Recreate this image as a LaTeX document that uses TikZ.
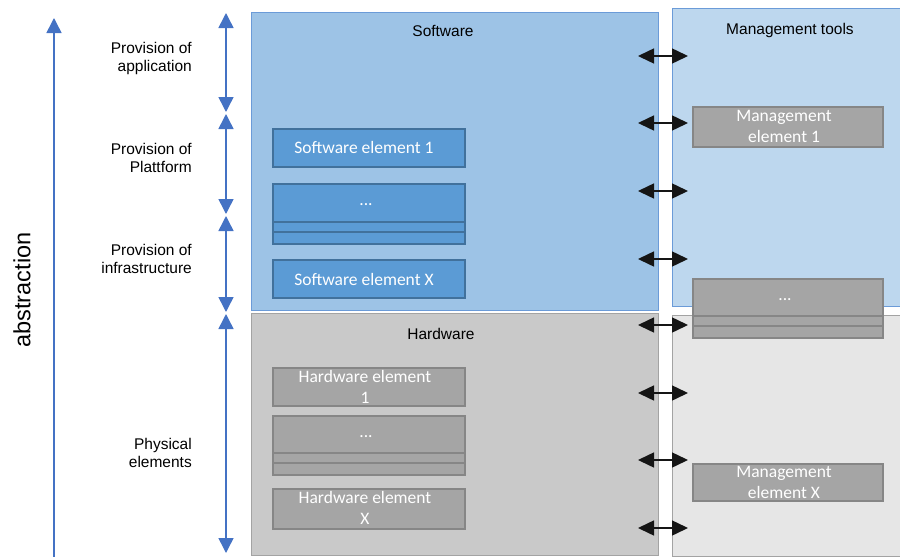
\documentclass[tikz,border=0pt]{standalone}
\usepackage{fontspec}
\setmainfont{Liberation Sans}
\newfontfamily\carlito{Carlito}
\usetikzlibrary{arrows.meta}
\definecolor{swfill}{HTML}{9DC3E6}
\definecolor{swdraw}{HTML}{6B9BD8}
\definecolor{mtfill}{HTML}{BDD7EE}
\definecolor{hwfill}{HTML}{C9C9C9}
\definecolor{hwdraw}{HTML}{A3A3A3}
\definecolor{mlfill}{HTML}{E6E6E6}
\definecolor{elblue}{HTML}{5B9BD5}
\definecolor{elbluedraw}{HTML}{41719C}
\definecolor{elgray}{HTML}{A5A5A5}
\definecolor{elgraydraw}{HTML}{868686}
\definecolor{arrblue}{HTML}{4472C4}
\definecolor{arrblack}{HTML}{151515}
\tikzset{
  bigbox/.style={draw, line width=1.3pt, anchor=north west, inner sep=0pt},
  title/.style={font=\fontsize{15.5}{18}\selectfont, text=black},
  lbl/.style={font=\fontsize{15.5}{18}\selectfont, align=right, anchor=east, inner sep=0pt, text=black},
  swel/.style={draw=elbluedraw, fill=elblue, line width=2pt, anchor=north west, inner sep=0pt},
  gyel/.style={draw=elgraydraw, fill=elgray, line width=2pt, anchor=north west, inner sep=0pt},
  eltext/.style={font=\carlito\fontsize{17.5}{21}\selectfont, text=white, align=center, inner sep=0pt},
  dots/.style={font=\carlito\fontsize{17.5}{21}\selectfont, text=white, inner sep=0pt, anchor=base},
  bluearr/.style={draw=arrblue, fill=arrblue, line width=1.5pt,
     {Triangle[length=15pt,width=15pt]}-{Triangle[length=15pt,width=15pt]}},
  upone/.style={draw=arrblue, fill=arrblue, line width=1.5pt, -{Triangle[length=15pt,width=15pt]}},
  blackarr/.style={draw=arrblack, fill=arrblack, line width=1.5pt,
     {Triangle[length=16pt,width=15pt]}-{Triangle[length=16pt,width=15pt]}}
}
\begin{document}
\begin{tikzpicture}[x=1pt,y=-1pt]
\useasboundingbox (0,0) rectangle (900,557);
\clip (0,0) rectangle (900,557);

% big boxes
\node[bigbox, draw=swdraw, fill=swfill, minimum width=407pt, minimum height=298pt] (sw) at (251,12) {};
\node[bigbox, draw=hwdraw, fill=hwfill, minimum width=407pt, minimum height=242pt] (hw) at (251,313) {};
\node[bigbox, draw=swdraw, fill=mtfill, minimum width=250pt, minimum height=298pt] (mt) at (672,8) {};
\node[bigbox, draw=hwdraw, fill=mlfill, minimum width=250pt, minimum height=241pt] (ml) at (672,315) {};

\node[title] (swt) at (443,31) {Software};
\node[title] (hwt) at (441,334) {Hardware};
\node[title] (mtt) at (790,30) {Management tools};

% software elements
\node[swel, minimum width=192pt, minimum height=38pt] (se1) at (272,128) {};
\node[eltext] (se1t) at (364,147) {Software element 1};
\node[swel, minimum width=192pt, minimum height=38pt] (sed) at (272,183) {};
\node[dots] (sedt) at (366,205) {...};
\node[swel, minimum width=192pt, minimum height=10pt] (seda) at (272,221) {};
\node[swel, minimum width=192pt, minimum height=12pt] (sedb) at (272,231) {};
\node[swel, minimum width=192pt, minimum height=38pt] (sex) at (272,259) {};
\node[eltext] (sext) at (364,279) {Software element X};

% hardware elements
\node[gyel, minimum width=192pt, minimum height=38pt] (he1) at (272,367) {};
\node[eltext] (he1t) at (365,387) {Hardware element\\1};
\node[gyel, minimum width=192pt, minimum height=37pt] (hed) at (272,415) {};
\node[dots] (hedt) at (366,437) {...};
\node[gyel, minimum width=192pt, minimum height=10pt] (heda) at (272,452) {};
\node[gyel, minimum width=192pt, minimum height=12pt] (hedb) at (272,462) {};
\node[gyel, minimum width=192pt, minimum height=40pt] (hex) at (272,488) {};
\node[eltext] (hext) at (365,508) {Hardware element\\X};

% management elements
\node[gyel, minimum width=190pt, minimum height=40pt] (me1) at (692,106) {};
\node[eltext] (me1t) at (784,126) {Management\\element 1};
\node[gyel, minimum width=190pt, minimum height=37pt] (med) at (692,278) {};
\node[dots] (medt) at (785,300) {...};
\node[gyel, minimum width=190pt, minimum height=10pt] (meda) at (692,315) {};
\node[gyel, minimum width=190pt, minimum height=12pt] (medb) at (692,325) {};
\node[gyel, minimum width=190pt, minimum height=37pt] (mex) at (692,463) {};
\node[eltext] (mext) at (784,482) {Management\\element X};

% abstraction arrow
\coordinate (ab0) at (54,560);
\coordinate (ab1) at (54,18);
\draw[upone] (ab0) -- (ab1);
\node[font=\fontsize{23.5}{28}\selectfont, rotate=90] (abs) at (22,290) {abstraction};

% level arrows
\coordinate (l0) at (226,13);
\coordinate (l1) at (226,112);
\coordinate (l2) at (226,114);
\coordinate (l3) at (226,214);
\coordinate (l4) at (226,216);
\coordinate (l5) at (226,312);
\coordinate (l6) at (226,314);
\coordinate (l7) at (226,553);
\draw[bluearr] (l0) -- (l1);
\draw[bluearr] (l2) -- (l3);
\draw[bluearr] (l4) -- (l5);
\draw[bluearr] (l6) -- (l7);

\node[lbl] (la) at (192,58) {Provision of\\application};
\node[lbl] (lp) at (192,158) {Provision of\\Plattform};
\node[lbl] (li) at (192,259) {Provision of\\infrastructure};
\node[lbl] (lph) at (192,453) {Physical\\elements};

% black double arrows
\foreach \i/\yy in {1/56,2/123,3/191,4/259,5/325,6/393,7/460,8/528}{
  \coordinate (bl\i) at (638,\yy);
  \coordinate (br\i) at (688,\yy);
  \draw[blackarr] (bl\i) -- (br\i);
}
\end{tikzpicture}
\end{document}
